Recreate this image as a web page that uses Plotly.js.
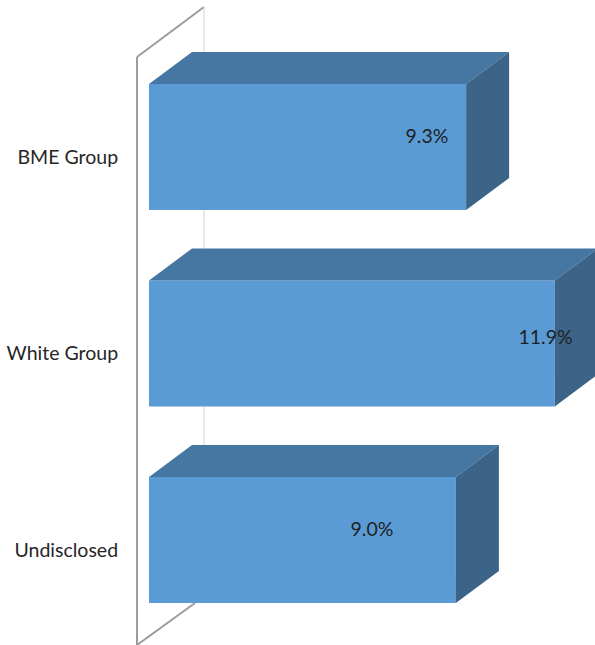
<!DOCTYPE html>
<html>
<head>
<meta charset="utf-8">
<script src="https://cdn.plot.ly/plotly-3.0.1.min.js"></script>
<style>html,body{margin:0;padding:0;background:#fff}#c{width:595px;height:645px}</style>
</head>
<body>
<div id="c"></div>
<script>
const categories = ["BME Group", "White Group", "Undisclosed"];
const values = [9.3, 11.9, 9.0];

// Axis scale: 34.1 px per unit in x, 196.5 px per category in y
const pxX = 34.1, pxY = 196.5, originX = 149, originY = 147, marginL = 125;
const X = px => (px - originX) / pxX;
const Y = px => (px - originY) / pxY;
const barW = 126 / pxY, h = barW / 2;
const dx = 43 / pxX, dy = 32 / pxY;
const pos = categories.map((_, i) => i);

const FRONT = "#5B9BD5", TOP = "#4676A2", SIDE = "#3B6488";

const front = {
  type: "bar", orientation: "h", y: pos, x: values, width: barW,
  marker: {color: FRONT, line: {width: 0}}, hoverinfo: "skip", showlegend: false
};
const face = (xs, ys, color) => ({
  type: "scatter", mode: "lines", x: xs, y: ys, fill: "toself", fillcolor: color,
  line: {width: 0, color: color}, hoverinfo: "skip", showlegend: false
});
const tops = values.map((v, i) => face(
  [0, dx, v + dx, v, 0],
  [i - h, i - h - dy, i - h - dy, i - h, i - h], TOP));
const sides = values.map((v, i) => face(
  [v, v + dx, v + dx, v, v],
  [i - h, i - h - dy, i + h - dy, i + h, i - h], SIDE));

const labelPxX = [427, 545.5, 372], labelPxY = [138.5, 339.5, 531.5];
const labels = {
  type: "scatter", mode: "text",
  x: labelPxX.map(X), y: labelPxY.map(Y),
  text: values.map(v => v.toFixed(1) + "%"),
  textposition: "middle center",
  textfont: {family: "Lato, Carlito, sans-serif", size: 19.5, color: "#1f1f1f"},
  hoverinfo: "skip", showlegend: false, cliponaxis: false
};

const wallLine = (x0, y0, x1, y1, color, width, dash) => ({
  type: "line", xref: "x", yref: "y", layer: "below",
  x0: X(x0), y0: Y(y0), x1: X(x1), y1: Y(y1),
  line: {color: color, width: width, dash: dash || "solid"}
});

const layout = {
  width: 595, height: 645,
  margin: {l: marginL, r: 0, t: 0, b: 0, pad: 0},
  paper_bgcolor: "#fff", plot_bgcolor: "#fff",
  showlegend: false,
  xaxis: {range: [X(marginL), X(595)], visible: false, fixedrange: true},
  yaxis: {
    range: [Y(645), Y(0)],
    tickvals: pos.map(p => p + 10 / pxY), ticktext: categories,
    ticks: "outside", ticklen: 2, tickcolor: "rgba(0,0,0,0)",
    showgrid: false, zeroline: false, showline: false, fixedrange: true,
    tickfont: {family: "Lato, Carlito, sans-serif", size: 19.5, color: "#262626"}
  },
  shapes: [
    wallLine(137, 57, 137, 645, "#9c9c9c", 2),
    wallLine(137, 57, 204, 7, "#9c9c9c", 2),
    wallLine(204, 7, 204, 603, "#d4d4d4", 1),
    wallLine(137, 645, 195, 603, "#9c9c9c", 2)
  ]
};

Plotly.newPlot("c", [front, ...tops, ...sides, labels], layout, {displayModeBar: false, staticPlot: true});
</script>
</body>
</html>
